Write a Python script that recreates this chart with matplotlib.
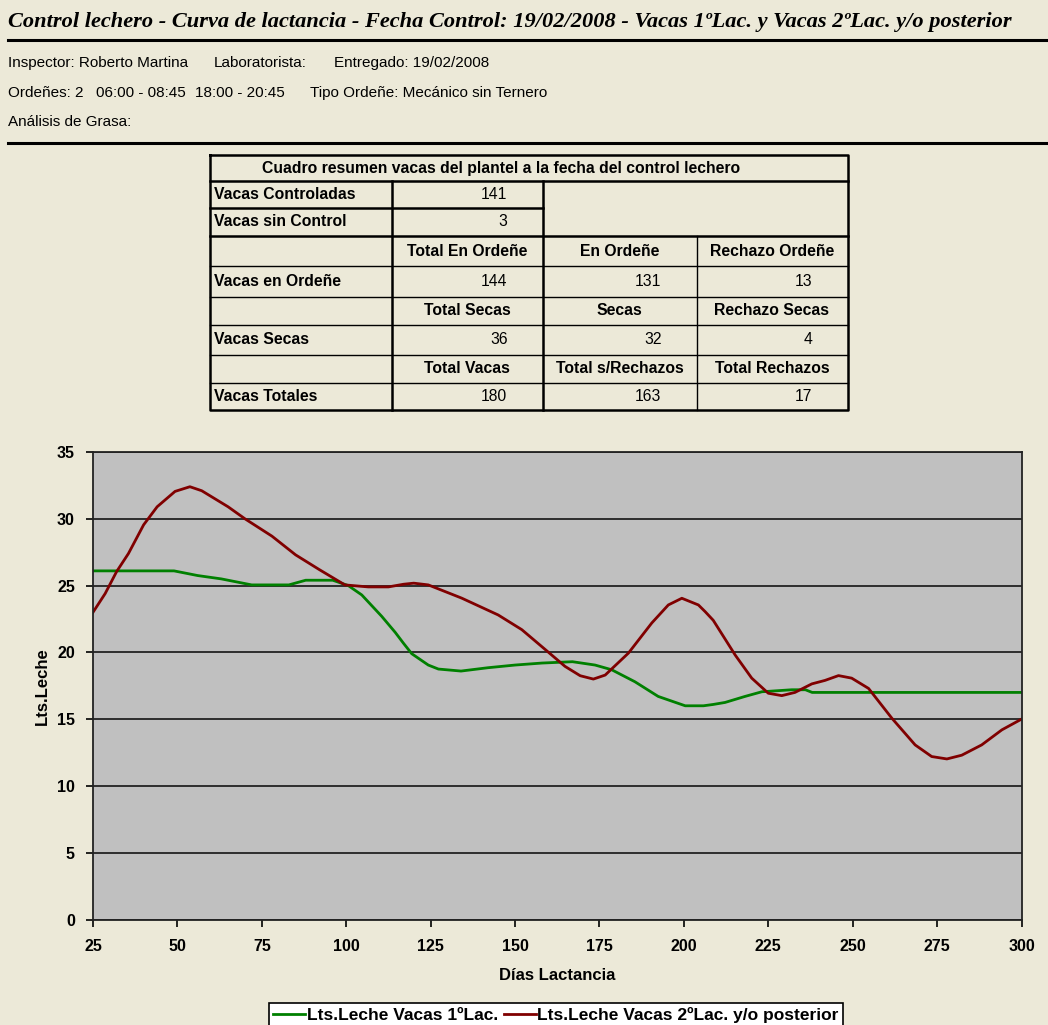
import matplotlib
matplotlib.use("Agg")
import matplotlib.pyplot as plt
from matplotlib.ticker import MultipleLocator

# --- data ---
dias_1lac = [25, 35, 45, 49, 56, 63, 70, 72, 83, 88, 96, 100.6, 104.6, 110.5, 114.5,
             116.9, 119.4, 124.3, 127.3, 134, 142, 150, 158, 167, 173.7, 178.6, 185.5,
             192.4, 200.4, 205.8, 208.7, 212.2, 218.1, 223.1, 232, 236, 238, 250, 275, 300]
lts_1lac = [26.1, 26.1, 26.1, 26.1, 25.75, 25.5, 25.15, 25.05, 25.05, 25.4, 25.4, 25.0, 24.3,
            22.7, 21.5, 20.7, 19.9, 19.05, 18.75, 18.6, 18.85, 19.05, 19.2, 19.3, 19.05, 18.7,
            17.8, 16.7, 16.0, 16.0, 16.1, 16.25, 16.7, 17.05, 17.2, 17.2, 17.0, 17.0, 17.0, 17.0]

dias_2lac = [25, 28.6, 32, 35.5, 40, 44, 49.3, 53.7, 57.2, 65, 70, 78, 85, 92, 99.6, 106.5,
             112.5, 117, 120, 124.3, 134.2, 145, 152, 159, 164.8, 169.3, 173.2, 176.7, 183.6,
             190.5, 195.4, 199.4, 204.3, 206.3, 208.7, 210.2, 215.2, 220.1, 225, 229, 232.9,
             237.9, 241.8, 245.8, 249.7, 254.7, 261.6, 268.5, 273.4, 277.9, 282.3, 288.2,
             294.2, 300]
lts_2lac = [23.0, 24.4, 26.05, 27.4, 29.55, 30.9, 32.05, 32.4, 32.1, 30.9, 30.0, 28.7, 27.3,
            26.2, 25.05, 24.9, 24.9, 25.1, 25.18, 25.05, 24.06, 22.8, 21.7, 20.2, 18.95, 18.25,
            18.0, 18.3, 19.95, 22.2, 23.55, 24.05, 23.55, 23.05, 22.4, 21.8, 19.8, 18.07, 16.94,
            16.76, 17.0, 17.64, 17.9, 18.26, 18.07, 17.3, 15.07, 13.07, 12.2, 12.02, 12.3, 13.07,
            14.2, 15.0]

titulo = ("Control lechero - Curva de lactancia - Fecha Control: 19/02/2008 - "
          "Vacas 1ºLac. y Vacas 2ºLac. y/o posterior")

# table contents
tabla_titulo = "Cuadro resumen vacas del plantel a la fecha del control lechero"
filas_label = ["Vacas Controladas", "Vacas sin Control", "", "Vacas en Ordeñe", "",
               "Vacas Secas", "", "Vacas Totales"]
cabeceras = [["Total En Ordeñe", "En Ordeñe", "Rechazo Ordeñe"],
             ["Total Secas", "Secas", "Rechazo Secas"],
             ["Total Vacas", "Total s/Rechazos", "Total Rechazos"]]
valores = [["144", "131", "13"], ["36", "32", "4"], ["180", "163", "17"]]
controladas = "141"
sin_control = "3"

W, H = 1048, 1025
BG = "#ece9d8"
fig = plt.figure(figsize=(W / 100, H / 100), dpi=100, facecolor=BG)

# overlay in pixel coords for page header and table
page = fig.add_axes([0, 0, 1, 1])
page.set_xlim(0, W)
page.set_ylim(H, 0)
page.axis("off")

sans = ["Liberation Sans", "DejaVu Sans"]
hfs = 11

page.text(8, 22, titulo, family="Liberation Serif", style="italic", weight="bold",
          fontsize=16.1, va="center", ha="left")
page.plot([8, W], [40, 40], color="black", lw=2.2)
page.text(8, 63, "Inspector: Roberto Martina", family=sans, fontsize=hfs, va="center")
page.text(214, 63, "Laboratorista:", family=sans, fontsize=hfs, va="center")
page.text(334, 63, "Entregado: 19/02/2008", family=sans, fontsize=hfs, va="center")
page.text(8, 93, "Ordeñes: 2", family=sans, fontsize=hfs, va="center")
page.text(96, 93, "06:00 - 08:45", family=sans, fontsize=hfs, va="center")
page.text(195, 93, "18:00 - 20:45", family=sans, fontsize=hfs, va="center")
page.text(310, 93, "Tipo Ordeñe: Mecánico sin Ternero", family=sans, fontsize=hfs, va="center")
page.text(8, 122, "Análisis de Grasa:", family=sans, fontsize=hfs, va="center")
page.plot([8, W], [143, 143], color="black", lw=2.2)

# table grid
cx = [210, 391.5, 542.5, 696.5, 847.5]
ry = [155, 181, 207.5, 236, 266, 296.5, 325, 354.5, 382.5, 410]
thick, thin = 1.8, 1.0
k = "black"
page.plot([cx[0], cx[4], cx[4], cx[0], cx[0]], [ry[0], ry[0], ry[9], ry[9], ry[0]], color=k, lw=thick)
page.plot([cx[0], cx[4]], [ry[1], ry[1]], color=k, lw=thick)
page.plot([cx[0], cx[2]], [ry[2], ry[2]], color=k, lw=thick)
page.plot([cx[0], cx[4]], [ry[3], ry[3]], color=k, lw=thick)
for y in ry[4:9]:
    page.plot([cx[0], cx[4]], [y, y], color=k, lw=thin)
page.plot([cx[1], cx[1]], [ry[1], ry[9]], color=k, lw=thick)
page.plot([cx[2], cx[2]], [ry[1], ry[9]], color=k, lw=thick)
page.plot([cx[3], cx[3]], [ry[3], ry[9]], color=k, lw=thin)

tfs = 11.3
page.text(262, (ry[0] + ry[1]) / 2, tabla_titulo, family=sans, weight="bold",
          fontsize=tfs, va="center", ha="left")
for i, lab in enumerate(filas_label):
    yc = (ry[i + 1] + ry[i + 2]) / 2
    if lab:
        page.text(cx[0] + 4, yc, lab, family=sans, weight="bold", fontsize=tfs, va="center")
page.text(cx[2] - 35, (ry[1] + ry[2]) / 2, controladas, family=sans, fontsize=tfs,
          va="center", ha="right")
page.text(cx[2] - 35, (ry[2] + ry[3]) / 2, sin_control, family=sans, fontsize=tfs,
          va="center", ha="right")
for j in range(3):
    yh = (ry[3 + 2 * j] + ry[4 + 2 * j]) / 2
    yv = (ry[4 + 2 * j] + ry[5 + 2 * j]) / 2
    for c in range(3):
        page.text((cx[c + 1] + cx[c + 2]) / 2, yh, cabeceras[j][c], family=sans,
                  weight="bold", fontsize=tfs, va="center", ha="center")
        page.text(cx[c + 2] - 35, yv, valores[j][c], family=sans, fontsize=tfs,
                  va="center", ha="right")

# --- chart ---
ax = fig.add_axes([93 / W, 1 - 919.5 / H, (1021.5 - 93) / W, (919.5 - 452) / H])
ax.set_facecolor("#c0c0c0")
ax.plot(dias_1lac, lts_1lac, color="#008000", lw=2.0, label="Lts.Leche Vacas 1ºLac.")
ax.plot(dias_2lac, lts_2lac, color="#800000", lw=2.0,
        label="Lts.Leche Vacas 2ºLac. y/o posterior")
ax.set_xlim(25, 300)
ax.set_ylim(0, 35)
ax.xaxis.set_major_locator(MultipleLocator(25))
ax.yaxis.set_major_locator(MultipleLocator(5))
ax.grid(axis="y", color="#222222", lw=1.3)
ax.set_axisbelow(True)
for s in ax.spines.values():
    s.set_color("#222222")
    s.set_linewidth(1.3)
ax.tick_params(direction="out", length=5, width=1.2, labelsize=11.5)
ax.tick_params(axis="x", pad=9)
ax.tick_params(axis="y", pad=8)
for lbl in ax.get_xticklabels() + ax.get_yticklabels():
    lbl.set_fontweight("bold")
    lbl.set_family("Liberation Sans")
ax.set_xlabel("Días Lactancia", fontweight="bold", fontsize=12, family="Liberation Sans",
              labelpad=10)
ax.set_ylabel("Lts.Leche", fontweight="bold", fontsize=12, family="Liberation Sans",
              labelpad=5)

leg = fig.legend(loc="upper center", bbox_to_anchor=(556 / W, 1 - 1003 / H), ncol=2,
                 borderaxespad=0, frameon=True, fancybox=False, edgecolor="black",
                 facecolor="white", framealpha=1, borderpad=0.25, handlelength=1.85,
                 handletextpad=0.1, columnspacing=0.3,
                 prop={"family": "Liberation Sans", "weight": "bold", "size": 12.5})
leg.get_frame().set_linewidth(1.2)

fig.savefig("out.png", dpi=100, facecolor=BG)
